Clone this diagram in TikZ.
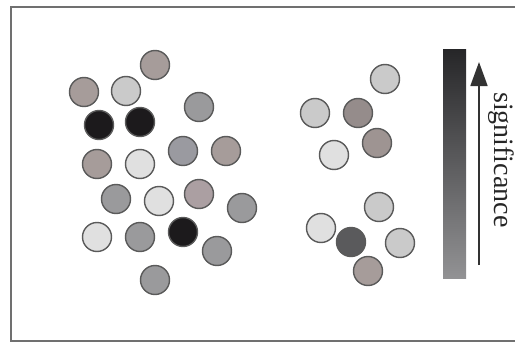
\documentclass[tikz,border=0pt]{standalone}
\usepackage{fontspec}
\setmainfont{Liberation Serif}
\usetikzlibrary{arrows.meta}
\definecolor{cbrown}{HTML}{A69C9A}
\definecolor{cpink}{HTML}{AB9FA2}
\definecolor{clight}{HTML}{CACACA}
\definecolor{cvlight}{HTML}{E0E0E0}
\definecolor{cgray}{HTML}{9A9A9C}
\definecolor{cblue}{HTML}{9A9AA0}
\definecolor{cblack}{HTML}{1C1A1C}
\definecolor{cdark}{HTML}{5A5A5C}
\definecolor{cedge}{HTML}{5A5A5A}
\definecolor{cframe}{HTML}{707070}
\tikzset{
  dot/.style={circle, draw=cedge, line width=1.4pt, minimum size=29pt, inner sep=0pt},
  framestroke/.style={draw=cframe, line width=2pt},
}
\begin{document}
\begin{tikzpicture}[x=1pt, y=-1pt]
\useasboundingbox (0,0) rectangle (515,343);
% frame (right edge outside the picture)
\draw[framestroke] (530,7) -- (11,7) -- (11,341) -- (530,341);
% left cluster
\node[dot, fill=cbrown]  (c1)  at (155,65)  {};
\node[dot, fill=cbrown]  (c2)  at (84,92)   {};
\node[dot, fill=clight]  (c3)  at (126,91)  {};
\node[dot, fill=cgray]   (c4)  at (199,107) {};
\node[dot, fill=cblack]  (c5)  at (99,125)  {};
\node[dot, fill=cblack]  (c6)  at (140,122) {};
\node[dot, fill=cbrown]  (c7)  at (97,164)  {};
\node[dot, fill=cvlight] (c8)  at (140,164) {};
\node[dot, fill=cblue]   (c9)  at (183,151) {};
\node[dot, fill=cbrown]  (c10) at (226,151) {};
\node[dot, fill=cgray]   (c11) at (116,199) {};
\node[dot, fill=cvlight] (c12) at (159,201) {};
\node[dot, fill=cpink]   (c13) at (199,194) {};
\node[dot, fill=cgray]   (c14) at (242,208) {};
\node[dot, fill=cvlight] (c15) at (97,237)  {};
\node[dot, fill=cgray]   (c16) at (140,237) {};
\node[dot, fill=cblack]  (c17) at (183,232) {};
\node[dot, fill=cgray]   (c18) at (217,251) {};
\node[dot, fill=cgray]   (c19) at (155,280) {};
% right cluster
\node[dot, fill=clight]  (r1)  at (385,79)  {};
\node[dot, fill=clight]  (r2)  at (315,113) {};
\node[dot, fill=cbrown!90!black] (r3) at (358,113) {};
\node[dot, fill=cbrown!95!black] (r4) at (377,143) {};
\node[dot, fill=cvlight] (r5)  at (334,155) {};
\node[dot, fill=clight]  (r6)  at (379,207) {};
\node[dot, fill=cvlight] (r7)  at (321,228) {};
\node[dot, fill=cdark]   (r8)  at (351,242) {};
\node[dot, fill=clight]  (r9)  at (400,243) {};
\node[dot, fill=cbrown]  (r10) at (368,271) {};
% significance bar
\node[minimum width=23pt, minimum height=229pt, inner sep=0pt,
      top color={rgb,255:red,38;green,38;blue,40},
      bottom color={rgb,255:red,146;green,146;blue,148}] (bar) at (454.5,163.5) {};
% arrow
\coordinate (abot) at (479,265);
\coordinate (atop) at (479,62);
\draw[line width=1.8pt, draw=black!80, -{Triangle[length=24pt, width=17pt]}] (abot) -- (atop);
% label
\node[rotate=-90, anchor=base west, font=\fontsize{28}{28}\selectfont, text=black!85, inner sep=0pt] (lab) at (494,92) {significance};
\end{tikzpicture}
\end{document}
